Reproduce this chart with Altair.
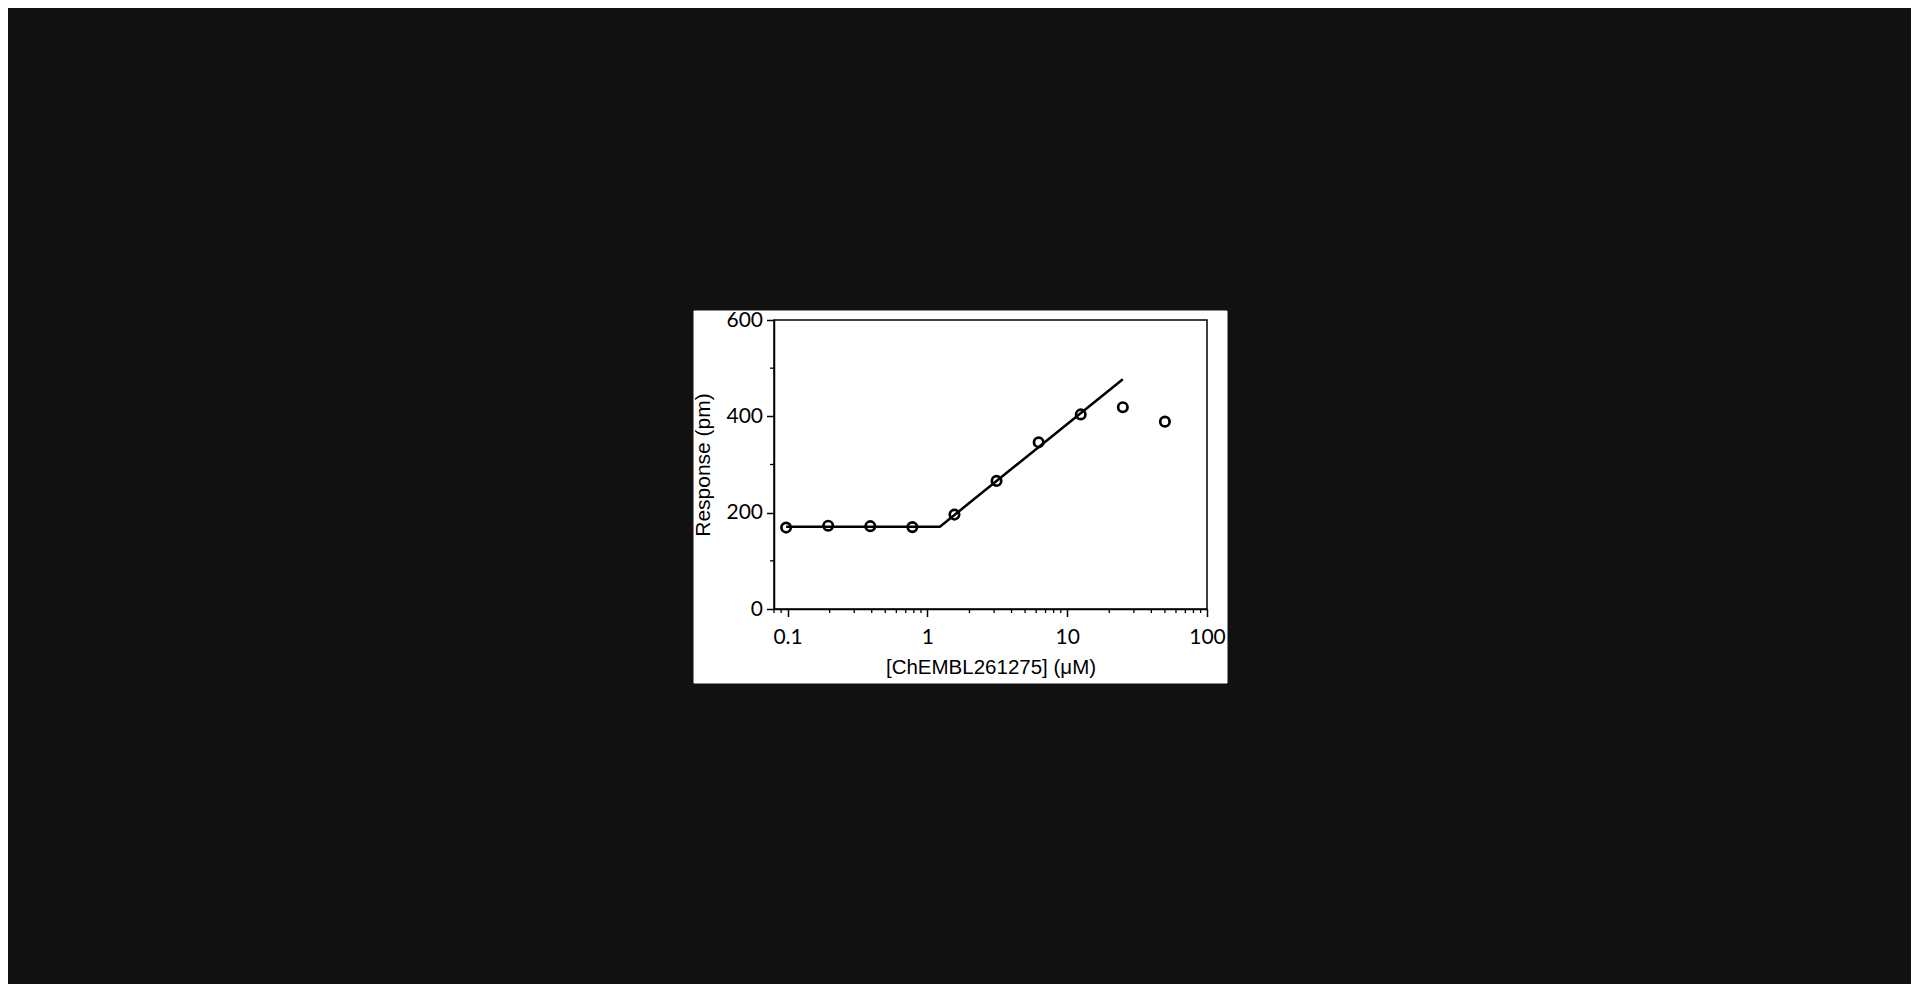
import altair as alt
import pandas as pd

# ---- data ----
conc_uM = [0.09765625, 0.1953125, 0.390625, 0.78125, 1.5625, 3.125, 6.25, 12.5, 25, 50]
response_pm = [169, 173, 172, 170, 196, 266, 346, 404, 419, 389]

fit_x = [0.0977, 1.23, 25]
fit_y = [171, 171, 477]

x_major = [0.1, 1, 10, 100]
x_minor = [0.08, 0.09, 0.2, 0.3, 0.4, 0.5, 0.6, 0.7, 0.8, 0.9,
           2, 3, 4, 5, 6, 7, 8, 9, 20, 30, 40, 50, 60, 70, 80, 90]
y_major = [0, 200, 400, 600]
y_minor = [100, 300, 500]

x_title = "[ChEMBL261275] (\u03bcM)"
y_title = "Response (pm)"

# ---- layout ----
W, H = 433, 289
PAD = {"left": 766, "top": 312, "right": 704, "bottom": 375}

pts_df = pd.DataFrame({"x": conc_uM, "y": response_pm})
fit_df = pd.DataFrame({"x": fit_x, "y": fit_y})
xmin_df = pd.DataFrame({"x": x_minor})
ymin_df = pd.DataFrame({"y": y_minor})
one = pd.DataFrame({"k": [0]})

xscale = alt.Scale(type="log", domain=[0.08, 100], nice=False)
yscale = alt.Scale(domain=[0, 600], nice=False, zero=True)

xaxis = alt.Axis(values=x_major, format="~g", grid=False, zindex=1,
                 tickSize=7.5, tickWidth=1.5, tickColor="black",
                 domainWidth=1.5, domainColor="black",
                 labelFont="Lato", labelFontSize=21, labelColor="black",
                 labelPadding=10, labelFlush=False, labelOverlap=False,
                 title=x_title, titleFont="Liberation Sans", titleFontSize=20.5,
                 titleFontWeight="normal", titleColor="black", titlePadding=10)
yaxis = alt.Axis(values=y_major, grid=False, zindex=1,
                 tickSize=7.5, tickWidth=1.5, tickColor="black",
                 domainWidth=1.5, domainColor="black",
                 labelFont="Lato", labelFontSize=21, labelColor="black",
                 labelPadding=4, labelOverlap=False,
                 title=y_title, titleFont="Liberation Sans", titleFontSize=21,
                 titleFontWeight="normal", titleColor="black", titlePadding=12)

bg = alt.Chart(one).mark_rect(fill="white", stroke="white").encode(
    x=alt.value(-80), x2=alt.value(453), y=alt.value(-9), y2=alt.value(363)
)

line = alt.Chart(fit_df).mark_line(color="black", strokeWidth=2.5).encode(
    x=alt.X("x:Q", scale=xscale, axis=xaxis),
    y=alt.Y("y:Q", scale=yscale, axis=yaxis),
)

points = alt.Chart(pts_df).mark_point(
    shape="circle", filled=False, color="black", strokeWidth=2.7, size=88, opacity=1
).encode(
    x=alt.X("x:Q", scale=xscale),
    y=alt.Y("y:Q", scale=yscale),
)

xminor = alt.Chart(xmin_df).mark_rule(color="black", strokeWidth=1.3).encode(
    x=alt.X("x:Q", scale=xscale),
    y=alt.value(H), y2=alt.value(H + 4),
)

yminor = alt.Chart(ymin_df).mark_rule(color="black", strokeWidth=1.3).encode(
    y=alt.Y("y:Q", scale=yscale),
    x=alt.value(0), x2=alt.value(-4),
)

frame = alt.Chart(one).mark_rect(fill="transparent", stroke="black", strokeWidth=1.5).encode(
    x=alt.value(0), x2=alt.value(W), y=alt.value(0), y2=alt.value(H)
)

chart = alt.layer(bg, line, points, xminor, yminor, frame).properties(
    width=W, height=H,
    background="#111111",
    padding=PAD,
    autosize=alt.AutoSizeParams(type="none"),
).configure_view(strokeWidth=0)

chart.save("out.html", embed_options={"renderer": "svg", "actions": False})
